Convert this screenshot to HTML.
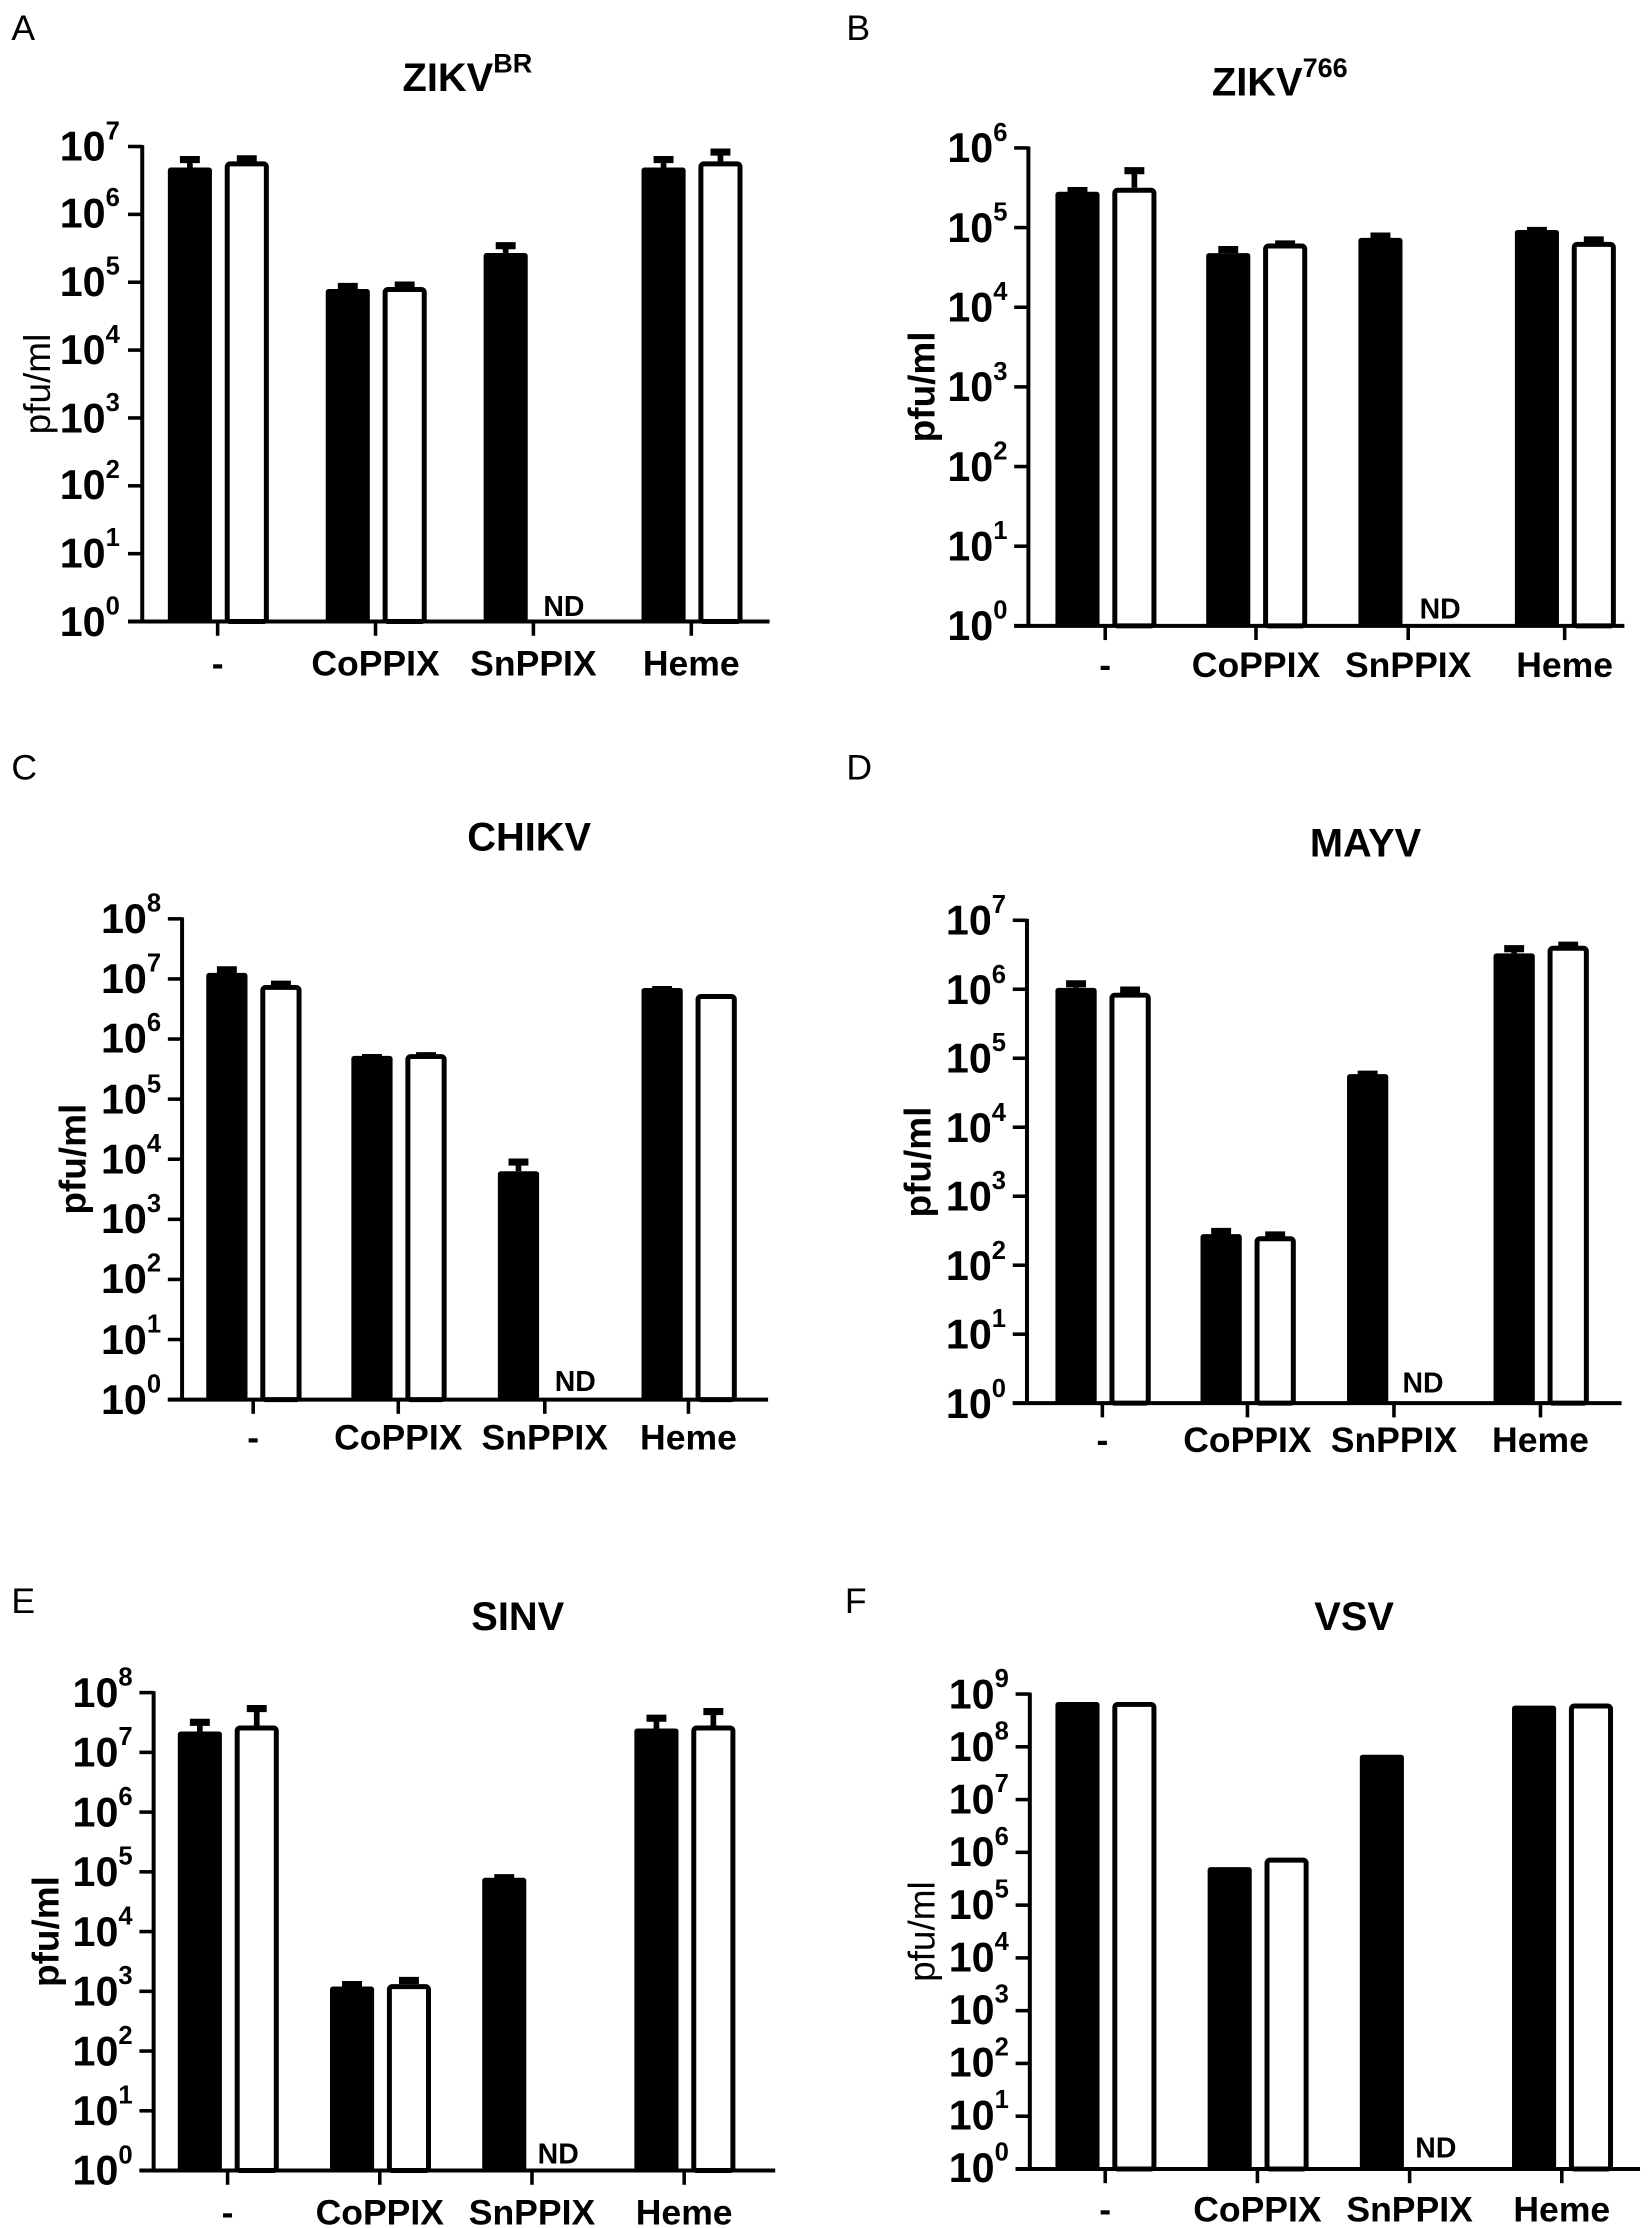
<!DOCTYPE html>
<html><head><meta charset="utf-8"><style>
html,body{margin:0;padding:0;background:#fff}
svg{display:block}
text{font-family:"Liberation Sans",Arial,sans-serif;fill:#000}
.yt{font-size:29px;font-weight:bold}
.yt tspan{font-size:18px}
.xl{font-size:25px;font-weight:bold}
.tt{font-size:28px;font-weight:bold}
.lt{font-size:25px}
.nd{font-size:20px;font-weight:bold}
.yl{font-size:26px}
.ylb{font-size:26px;font-weight:bold}
</style></head><body>
<svg id="s" width="1650" height="2228" viewBox="0 0 1160 1566.4" preserveAspectRatio="none" xmlns="http://www.w3.org/2000/svg">
<rect width="1160" height="1567" fill="#fff"/>
<g id="shapes"></g>
<text class="lt" x="8" y="28">A</text>
<text class="lt" x="595" y="28">B</text>
<text class="lt" x="8" y="548">C</text>
<text class="lt" x="595" y="548">D</text>
<text class="lt" x="8" y="1134">E</text>
<text class="lt" x="594" y="1134">F</text>
<text class="tt" x="283" y="64">ZIKV<tspan font-size="19" dy="-13">BR</tspan></text>
<text class="tt" x="852" y="67">ZIKV<tspan font-size="19" dy="-13">766</tspan></text>
<text class="tt" x="372" y="598" text-anchor="middle">CHIKV</text>
<text class="tt" x="960" y="602" text-anchor="middle">MAYV</text>
<text class="tt" x="364" y="1146" text-anchor="middle">SINV</text>
<text class="tt" x="952" y="1146" text-anchor="middle">VSV</text>
<text class="yl" transform="translate(35,270) rotate(-90)" text-anchor="middle">pfu/ml</text>
<text class="ylb" transform="translate(657,272) rotate(-90)" text-anchor="middle">pfu/ml</text>
<text class="ylb" transform="translate(60,815) rotate(-90)" text-anchor="middle">pfu/ml</text>
<text class="ylb" transform="translate(654,817) rotate(-90)" text-anchor="middle">pfu/ml</text>
<text class="ylb" transform="translate(41,1358) rotate(-90)" text-anchor="middle">pfu/ml</text>
<text class="yl" transform="translate(657,1358) rotate(-90)" text-anchor="middle">pfu/ml</text>

<text class="yt" x="42" y="447">10<tspan dy="-15">0</tspan></text>
<text class="yt" x="42" y="399">10<tspan dy="-15">1</tspan></text>
<text class="yt" x="42" y="351">10<tspan dy="-15">2</tspan></text>
<text class="yt" x="42" y="304">10<tspan dy="-15">3</tspan></text>
<text class="yt" x="42" y="256">10<tspan dy="-15">4</tspan></text>
<text class="yt" x="42" y="208">10<tspan dy="-15">5</tspan></text>
<text class="yt" x="42" y="160">10<tspan dy="-15">6</tspan></text>
<text class="yt" x="42" y="113">10<tspan dy="-15">7</tspan></text>

<text class="yt" x="666" y="450">10<tspan dy="-15">0</tspan></text>
<text class="yt" x="666" y="394">10<tspan dy="-15">1</tspan></text>
<text class="yt" x="666" y="338">10<tspan dy="-15">2</tspan></text>
<text class="yt" x="666" y="282">10<tspan dy="-15">3</tspan></text>
<text class="yt" x="666" y="226">10<tspan dy="-15">4</tspan></text>
<text class="yt" x="666" y="170">10<tspan dy="-15">5</tspan></text>
<text class="yt" x="666" y="114">10<tspan dy="-15">6</tspan></text>

<text class="yt" x="71" y="994">10<tspan dy="-15">0</tspan></text>
<text class="yt" x="71" y="952">10<tspan dy="-15">1</tspan></text>
<text class="yt" x="71" y="909">10<tspan dy="-15">2</tspan></text>
<text class="yt" x="71" y="867">10<tspan dy="-15">3</tspan></text>
<text class="yt" x="71" y="825">10<tspan dy="-15">4</tspan></text>
<text class="yt" x="71" y="783">10<tspan dy="-15">5</tspan></text>
<text class="yt" x="71" y="740">10<tspan dy="-15">6</tspan></text>
<text class="yt" x="71" y="698">10<tspan dy="-15">7</tspan></text>
<text class="yt" x="71" y="656">10<tspan dy="-15">8</tspan></text>

<text class="yt" x="665" y="997">10<tspan dy="-15">0</tspan></text>
<text class="yt" x="665" y="948">10<tspan dy="-15">1</tspan></text>
<text class="yt" x="665" y="900">10<tspan dy="-15">2</tspan></text>
<text class="yt" x="665" y="851">10<tspan dy="-15">3</tspan></text>
<text class="yt" x="665" y="803">10<tspan dy="-15">4</tspan></text>
<text class="yt" x="665" y="754">10<tspan dy="-15">5</tspan></text>
<text class="yt" x="665" y="706">10<tspan dy="-15">6</tspan></text>
<text class="yt" x="665" y="657">10<tspan dy="-15">7</tspan></text>

<text class="yt" x="51" y="1536">10<tspan dy="-15">0</tspan></text>
<text class="yt" x="51" y="1494">10<tspan dy="-15">1</tspan></text>
<text class="yt" x="51" y="1452">10<tspan dy="-15">2</tspan></text>
<text class="yt" x="51" y="1410">10<tspan dy="-15">3</tspan></text>
<text class="yt" x="51" y="1368">10<tspan dy="-15">4</tspan></text>
<text class="yt" x="51" y="1326">10<tspan dy="-15">5</tspan></text>
<text class="yt" x="51" y="1284">10<tspan dy="-15">6</tspan></text>
<text class="yt" x="51" y="1242">10<tspan dy="-15">7</tspan></text>
<text class="yt" x="51" y="1200">10<tspan dy="-15">8</tspan></text>

<text class="yt" x="667" y="1534">10<tspan dy="-15">0</tspan></text>
<text class="yt" x="667" y="1497">10<tspan dy="-15">1</tspan></text>
<text class="yt" x="667" y="1460">10<tspan dy="-15">2</tspan></text>
<text class="yt" x="667" y="1423">10<tspan dy="-15">3</tspan></text>
<text class="yt" x="667" y="1386">10<tspan dy="-15">4</tspan></text>
<text class="yt" x="667" y="1349">10<tspan dy="-15">5</tspan></text>
<text class="yt" x="667" y="1312">10<tspan dy="-15">6</tspan></text>
<text class="yt" x="667" y="1275">10<tspan dy="-15">7</tspan></text>
<text class="yt" x="667" y="1238">10<tspan dy="-15">8</tspan></text>
<text class="yt" x="667" y="1201">10<tspan dy="-15">9</tspan></text>

<g text-anchor="middle">
<text class="xl" x="153" y="475">-</text>
<text class="xl" x="264" y="475">CoPPIX</text>
<text class="xl" x="375" y="475">SnPPIX</text>
<text class="xl" x="486" y="475">Heme</text>
<text class="xl" x="777" y="476">-</text>
<text class="xl" x="883" y="476">CoPPIX</text>
<text class="xl" x="990" y="476">SnPPIX</text>
<text class="xl" x="1100" y="476">Heme</text>
<text class="xl" x="178" y="1019">-</text>
<text class="xl" x="280" y="1019">CoPPIX</text>
<text class="xl" x="383" y="1019">SnPPIX</text>
<text class="xl" x="484" y="1019">Heme</text>
<text class="xl" x="775" y="1021">-</text>
<text class="xl" x="877" y="1021">CoPPIX</text>
<text class="xl" x="980" y="1021">SnPPIX</text>
<text class="xl" x="1083" y="1021">Heme</text>
<text class="xl" x="160" y="1564">-</text>
<text class="xl" x="267" y="1564">CoPPIX</text>
<text class="xl" x="374" y="1564">SnPPIX</text>
<text class="xl" x="481" y="1564">Heme</text>
<text class="xl" x="777" y="1562">-</text>
<text class="xl" x="884" y="1562">CoPPIX</text>
<text class="xl" x="991" y="1562">SnPPIX</text>
<text class="xl" x="1098" y="1562">Heme</text>
</g>
<text class="nd" x="382" y="433">ND</text>
<text class="nd" x="998" y="435">ND</text>
<text class="nd" x="390" y="978">ND</text>
<text class="nd" x="986" y="979">ND</text>
<text class="nd" x="378" y="1521">ND</text>
<text class="nd" x="995" y="1517">ND</text>
</svg>
<script>
(function(){
var NS="http://www.w3.org/2000/svg",g=document.getElementById('shapes');
function el(t,a){var e=document.createElementNS(NS,t);for(var k in a)e.setAttribute(k,a[k]);g.appendChild(e);return e;}
var P=[
 {ax:100,right:541,top:103,step:47.71,n:7,ticks:[153,264,375,486],bw:31,
  v:[[6.69,6.85],[6.78,6.86],[4.9,4.98],[4.93,5.0],[5.43,5.58],null,[6.69,6.85],[6.78,6.96]]},
 {ax:723,right:1142,top:104,step:56,n:6,ticks:[777,883,990,1100],bw:31,
  v:[[5.45,5.5],[5.5,5.75],[4.68,4.76],[4.8,4.83],[4.87,4.93],null,[4.97,5.0],[4.82,4.88]]},
 {ax:128,right:540,top:646,step:42.25,n:8,ticks:[178,280,383,484],bw:29,
  v:[[7.1,7.2],[6.9,6.96],[5.72,5.74],[5.75,5.77],[3.8,4.0],null,[6.85,6.87],[6.75,6.76]]},
 {ax:722,right:1140,top:647,step:48.5,n:7,ticks:[775,877,980,1083],bw:29,
  v:[[6.02,6.12],[5.95,6.03],[2.45,2.53],[2.42,2.48],[4.77,4.81],null,[6.52,6.63],[6.63,6.68]]},
 {ax:108,right:545,top:1190,step:42,n:8,ticks:[160,267,374,481],bw:31,
  v:[[7.35,7.55],[7.45,7.78],[3.08,3.16],[3.12,3.23],[4.9,4.95],null,[7.4,7.62],[7.45,7.73]]},
 {ax:724,right:1153,top:1191,step:37.1,n:9,ticks:[777,884,991,1098],bw:31,
  v:[[8.85,8.85],[8.85,8.85],[5.72,5.72],[5.9,5.9],[7.85,7.85],null,[8.78,8.78],[8.82,8.82]]}
];
P.forEach(function(p){
 var bot=p.top+p.n*p.step;
 function Y(v){return bot-v*p.step;}
 p.ticks.forEach(function(t,i){
  [0,1].forEach(function(j){
   var d=p.v[i*2+j]; if(!d) return;
   var x0=j==0?t-4-p.bw:t+5, x1=x0+p.bw, yt=Y(d[0]), cx=(x0+x1)/2;
   if(d[1]-d[0]>0.01){
     var ye=Y(d[1]);
     el('line',{x1:cx,x2:cx,y1:yt,y2:ye,stroke:'#000','stroke-width':4});
     el('line',{x1:cx-7,x2:cx+7,y1:ye+2,y2:ye+2,stroke:'#000','stroke-width':5});
   }
   if(j==0) el('rect',{x:x0,y:yt,width:p.bw,height:bot-yt,fill:'#000',rx:2});
   else el('rect',{x:x0+1.75,y:yt+1.75,width:p.bw-3.5,height:bot-yt-1.75,fill:'#fff',stroke:'#000','stroke-width':3.5,rx:2});
  });
  el('line',{x1:t,x2:t,y1:bot,y2:bot+10,stroke:'#000','stroke-width':2.5});
 });
 el('line',{x1:p.ax,x2:p.ax,y1:p.top-1,y2:bot,stroke:'#000','stroke-width':2.8});
 for(var k=0;k<=p.n;k++){var y=Y(k);el('line',{x1:p.ax-10,x2:p.ax,y1:y,y2:y,stroke:'#000','stroke-width':2.5});}
 el('line',{x1:p.ax-10,x2:p.right,y1:bot,y2:bot,stroke:'#000','stroke-width':2.8});
});
})();
</script>
</body></html>
